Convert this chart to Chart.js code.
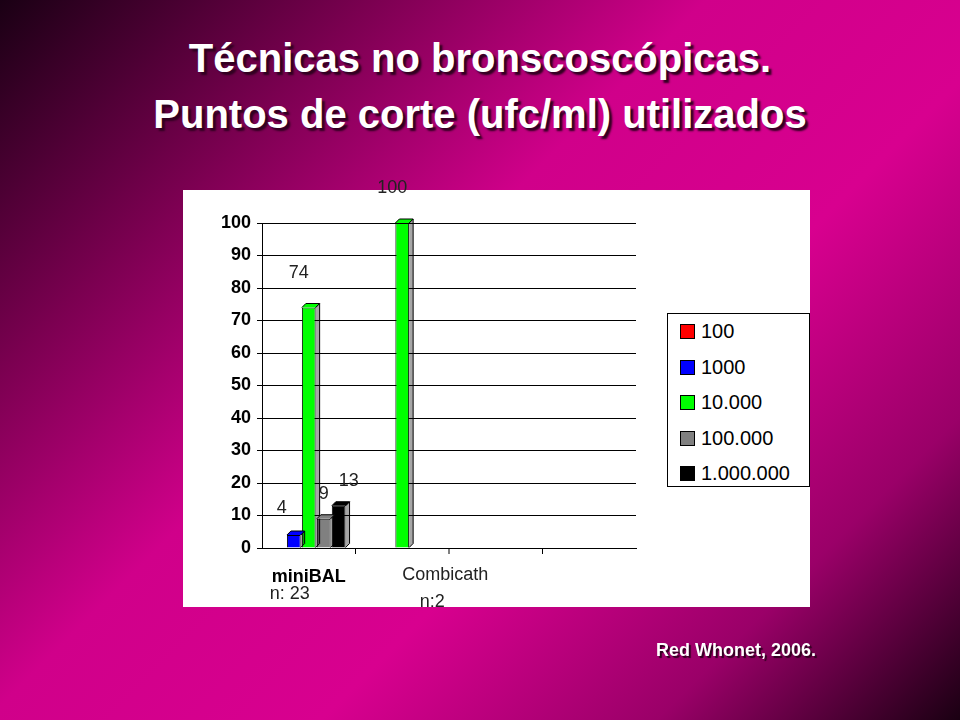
<!DOCTYPE html><html><head><meta charset="utf-8">
<script src="https://cdn.jsdelivr.net/npm/chart.js@4"></script>
<style>
html,body{margin:0;width:960px;height:720px;overflow:hidden;font-family:Arial,"Liberation Sans",sans-serif}
body{background:linear-gradient(135deg,#1a0014 0%,#7a0050 22%,#d0008a 42%,#d8008f 62%,#9a0068 82%,#1a0012 100%)}
#title{position:absolute;top:30px;left:0;width:960px;text-align:center;color:#fff;font-weight:bold;font-size:40px;line-height:56px;text-shadow:3px 3px 2px #300020}
#foot{position:absolute;top:640px;left:656px;color:#fff;font-weight:bold;font-size:18px;text-shadow:2px 2px 1px #300020}
#box{position:absolute;left:183px;top:190px;width:627px;height:417px;background:#fff}
canvas{position:absolute;left:0;top:0}
#leg{position:absolute;left:667px;top:313px;width:141px;height:172px;border:1.5px solid #000;background:#fff;font-size:20px}
.it{position:absolute;left:12px;height:22px;line-height:22px}
.sw{display:inline-block;width:13px;height:13px;border:1px solid #000;margin-right:6px;vertical-align:-1px}
</style></head><body>
<div id="title">Técnicas no bronscoscópicas.<br>Puntos de corte (ufc/ml) utilizados</div>
<div id="box"></div>
<canvas id="c" width="960" height="720"></canvas>
<div id="leg"></div>
<div id="foot">Red Whonet, 2006.</div>
<script>
const categories=['miniBAL','Combicath','',''];
const subLabels=['n: 23','n:2','',''];
const seriesNames=['100','1000','10.000','100.000','1.000.000'];
const seriesColors=['#ff0000','#0000ff','#00ff00','#808080','#000000'];
const v100=[0,0,0,0];
const v1000=[4,0,0,0];
const v10000=[74,100,0,0];
const v100000=[9,0,0,0];
const v1000000=[13,0,0,0];
const yTicks=[0,10,20,30,40,50,60,70,80,90,100];
const all=[v100,v1000,v10000,v100000,v1000000];
const leg=document.getElementById('leg');
seriesNames.forEach((n,i)=>{const d=document.createElement('div');d.className='it';d.style.top=(6+i*35.5)+'px';d.innerHTML='<span class="sw" style="background:'+seriesColors[i]+'"></span>'+n;leg.appendChild(d);});
const labelsPlugin={id:'lbl',afterDatasetsDraw(ch){
 const c=ch.ctx;c.save();
 // 3D sides
 ch.data.datasets.forEach((ds,i)=>{ch.getDatasetMeta(i).data.forEach((b,j)=>{if(!ds.data[j])return;const w=b.width,d=4;
  c.fillStyle='rgba(0,0,0,0.35)';c.beginPath();c.moveTo(b.x+w/2,b.y);c.lineTo(b.x+w/2+d,b.y-d);c.lineTo(b.x+w/2+d,b.base-d);c.lineTo(b.x+w/2,b.base);c.fill();c.stroke();
  c.fillStyle=seriesColors[i];c.beginPath();c.moveTo(b.x-w/2,b.y);c.lineTo(b.x-w/2+d,b.y-d);c.lineTo(b.x+w/2+d,b.y-d);c.lineTo(b.x+w/2,b.y);c.fill();c.strokeStyle='#000';c.lineWidth=1;c.stroke();
 });});
 c.fillStyle='#222';c.font='18px Arial';c.textAlign='center';
 const offs=[[-10,-15],[-12,-22],[-10,-30],[0,-20],[10,-20]];
 ch.data.datasets.forEach((ds,i)=>{ch.getDatasetMeta(i).data.forEach((b,j)=>{if(!ds.data[j])return;c.fillText(String(ds.data[j]),b.x+offs[i][0],b.y+offs[i][1]);});});
 const x=ch.scales.x;
 c.font='bold 18px Arial';c.fillStyle='#000';c.fillText(categories[0],x.getPixelForValue(0),582);
 c.font='18px Arial';c.fillStyle='#222';c.fillText(subLabels[0],x.getPixelForValue(0)-19,599);
 c.fillText(categories[1],x.getPixelForValue(1)+43,580);c.fillText(subLabels[1],x.getPixelForValue(1)+30,607);
 c.strokeStyle='#000';c.beginPath();for(let k=1;k<4;k++){const p=(x.getPixelForValue(k-1)+x.getPixelForValue(k))/2;c.moveTo(p,548);c.lineTo(p,554);}c.stroke();
 c.restore();}};
new Chart(document.getElementById('c'),{type:'bar',
 data:{labels:categories,datasets:all.map((d,i)=>({label:seriesNames[i],data:d,backgroundColor:seriesColors[i],borderColor:'#000',borderWidth:1}))},
 options:{responsive:false,animation:false,layout:{padding:{left:212,top:223,right:324,bottom:172}},
 categoryPercentage:0.8,barPercentage:0.92,
 plugins:{legend:{display:false},tooltip:{enabled:false}},
 scales:{x:{ticks:{display:false},grid:{display:false},border:{color:'#000'},afterFit(s){s.height=0;}},
  y:{min:0,max:100,afterFit(s){s.width=50;},afterBuildTicks(s){s.ticks=yTicks.map(v=>({value:v}));},
   ticks:{color:'#000',font:{size:18,weight:'bold',family:'Arial'},padding:6},grid:{color:'#000',tickLength:5},border:{color:'#000'}}}},
 plugins:[labelsPlugin]});
</script></body></html>
